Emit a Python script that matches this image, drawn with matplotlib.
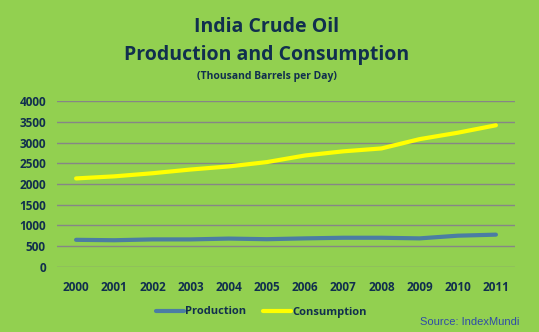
import matplotlib.pyplot as plt
import numpy as np

# India crude oil data (thousand barrels per day)
years = ['2000', '2001', '2002', '2003', '2004', '2005',
         '2006', '2007', '2008', '2009', '2010', '2011']
production = [650, 640, 660, 660, 680, 665, 685, 700, 700, 685, 750, 775]
consumption = [2135, 2185, 2260, 2350, 2425, 2530, 2690, 2790, 2860, 3085, 3240, 3420]
yticks = [0, 500, 1000, 1500, 2000, 2500, 3000, 3500, 4000]

bg = '#92D050'
navy = '#112F4E'

fig = plt.figure(figsize=(5.39, 3.32), dpi=100, facecolor=bg)
ax = fig.add_axes([57 / 539, 1 - 266.7 / 332, 458 / 539, 165.4 / 332])
ax.set_facecolor(bg)

x = np.arange(len(years))
ax.plot(x, production, color='#4B7DA3', lw=3, solid_capstyle='round', label='Production')
ax.plot(x, consumption, color='#FFFF00', lw=3, solid_capstyle='round', label='Consumption')

ax.set_xlim(-0.5, len(years) - 0.5)
ax.set_ylim(0, 4000)
ax.set_yticks(yticks)
ax.set_xticks(x)
ax.set_xticklabels(years)
ax.grid(axis='y', color='#868686', lw=1)
ax.set_axisbelow(True)
for s in ax.spines.values():
    s.set_visible(False)
ax.tick_params(length=0, colors=navy, labelsize=8.5, pad=8)
ax.tick_params(axis='x', pad=10)
for t in ax.get_xticklabels() + ax.get_yticklabels():
    t.set_fontweight('bold')
    t.set_family('Open Sans')

# titles
fig.text(0.495, 1 - 27 / 332, 'India Crude Oil', ha='center', va='center',
         fontsize=14, fontweight='bold', color=navy, family='Open Sans')
fig.text(0.495, 1 - 55 / 332, 'Production and Consumption', ha='center', va='center',
         fontsize=14, fontweight='bold', color=navy, family='Open Sans')
fig.text(0.495, 1 - 77 / 332, '(Thousand Barrels per Day)', ha='center', va='center',
         fontsize=7.5, fontweight='bold', color=navy, family='Open Sans')

leg = fig.legend(loc='center', bbox_to_anchor=(261.5 / 539, 1 - 312 / 332), ncol=2,
                 frameon=False, handlelength=2.5, handletextpad=0.1, columnspacing=1.5,
                 prop={'family': 'Open Sans', 'weight': 'bold', 'size': 8})
for t in leg.get_texts():
    t.set_color(navy)

fig.text(519 / 539, 1 - 322 / 332, 'Source: IndexMundi', ha='right', va='center',
         fontsize=8, color='#2F4BA8', family='Liberation Sans')

fig.savefig('out.png', dpi=100, facecolor=bg)
